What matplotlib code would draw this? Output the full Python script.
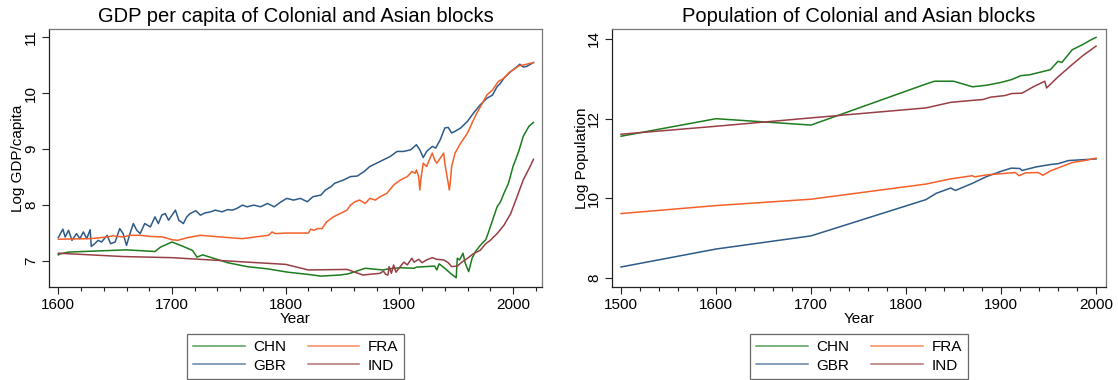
import matplotlib
matplotlib.use("Agg")
import matplotlib.pyplot as plt
from matplotlib.ticker import MultipleLocator

plt.rcParams['font.family'] = ['Liberation Sans', 'DejaVu Sans']

# ---------------- GDP per capita (log) ----------------
gdp_chn_years = [1600, 1602, 1609, 1660, 1685, 1690, 1700, 1710, 1718, 1722, 1727, 1738, 1749, 1766,
                 1784, 1802, 1820, 1831, 1848, 1855, 1870, 1886, 1890, 1901, 1913, 1915, 1931, 1933,
                 1935, 1940, 1945, 1950, 1951, 1953, 1956, 1958, 1961, 1964, 1967, 1970, 1973, 1976,
                 1978, 1981, 1986, 1989, 1992, 1996, 2000, 2005, 2009, 2014, 2018]
gdp_chn = [7.11, 7.13, 7.16, 7.20, 7.17, 7.25, 7.34, 7.26, 7.19, 7.07, 7.11, 7.04, 6.97, 6.90,
           6.86, 6.80, 6.76, 6.73, 6.75, 6.77, 6.87, 6.84, 6.86, 6.88, 6.87, 6.89, 6.91, 6.84,
           6.95, 6.87, 6.78, 6.70, 7.05, 7.02, 7.14, 6.96, 6.81, 7.05, 7.17, 7.25, 7.32, 7.38,
           7.49, 7.67, 7.97, 8.06, 8.21, 8.39, 8.69, 8.96, 9.23, 9.41, 9.48]

gdp_gbr_years = [1600, 1604, 1606, 1609, 1612, 1616, 1619, 1622, 1625, 1628, 1629, 1632, 1635, 1638,
                 1643, 1646, 1650, 1654, 1657, 1660, 1663, 1666, 1669, 1672, 1676, 1681, 1685, 1688,
                 1691, 1694, 1697, 1700, 1703, 1706, 1710, 1713, 1716, 1721, 1725, 1729, 1734, 1738,
                 1744, 1749, 1753, 1757, 1762, 1766, 1772, 1778, 1784, 1790, 1796, 1801, 1807, 1813,
                 1819, 1824, 1831, 1835, 1840, 1843, 1851, 1857, 1863, 1869, 1874, 1880, 1886, 1892,
                 1898, 1904, 1910, 1915, 1918, 1921, 1924, 1929, 1932, 1936, 1940, 1943, 1946, 1949,
                 1954, 1960, 1965, 1971, 1977, 1982, 1986, 1989, 1992, 1998, 2002, 2006, 2009, 2012, 2018]
gdp_gbr = [7.42, 7.57, 7.43, 7.55, 7.37, 7.49, 7.40, 7.52, 7.40, 7.56, 7.26, 7.31, 7.37, 7.34,
           7.46, 7.31, 7.34, 7.58, 7.49, 7.28, 7.49, 7.67, 7.55, 7.49, 7.67, 7.61, 7.79, 7.67,
           7.82, 7.85, 7.73, 7.82, 7.91, 7.73, 7.67, 7.79, 7.85, 7.90, 7.82, 7.86, 7.88, 7.91,
           7.88, 7.92, 7.91, 7.94, 8.00, 7.97, 8.00, 7.97, 8.03, 7.97, 8.06, 8.12, 8.09, 8.12,
           8.06, 8.15, 8.18, 8.27, 8.33, 8.39, 8.45, 8.51, 8.52, 8.60, 8.69, 8.75, 8.81, 8.87,
           8.96, 8.96, 8.99, 9.08, 8.99, 8.85, 8.96, 9.05, 9.02, 9.17, 9.38, 9.39, 9.29, 9.32,
           9.38, 9.50, 9.64, 9.79, 9.91, 9.97, 10.12, 10.18, 10.27, 10.39, 10.45, 10.52, 10.47, 10.48, 10.55]

gdp_fra_years = [1600, 1628, 1643, 1648, 1657, 1663, 1672, 1681, 1692, 1700, 1705, 1714, 1725, 1737,
                 1749, 1762, 1773, 1785, 1788, 1791, 1800, 1820, 1822, 1825, 1828, 1832, 1836, 1842,
                 1848, 1854, 1857, 1861, 1865, 1870, 1874, 1879, 1883, 1889, 1895, 1901, 1907, 1911,
                 1914, 1915, 1917, 1918, 1919, 1921, 1924, 1927, 1929, 1931, 1933, 1936, 1939, 1940,
                 1942, 1944, 1945, 1946, 1949, 1954, 1960, 1964, 1968, 1973, 1977, 1982, 1987, 1992,
                 1996, 2001, 2005, 2010, 2014, 2018]
gdp_fra = [7.39, 7.40, 7.43, 7.45, 7.43, 7.46, 7.46, 7.44, 7.43, 7.38, 7.37, 7.42, 7.46, 7.44,
           7.42, 7.40, 7.43, 7.46, 7.52, 7.49, 7.50, 7.50, 7.57, 7.55, 7.58, 7.58, 7.70, 7.79,
           7.85, 7.91, 8.00, 8.06, 8.09, 8.03, 8.12, 8.09, 8.15, 8.21, 8.36, 8.45, 8.51, 8.60,
           8.57, 8.63, 8.51, 8.27, 8.47, 8.75, 8.69, 8.84, 8.93, 8.81, 8.75, 8.84, 8.93, 8.75,
           8.51, 8.27, 8.45, 8.69, 8.93, 9.11, 9.29, 9.47, 9.64, 9.82, 9.97, 10.06, 10.21, 10.27,
           10.36, 10.43, 10.49, 10.51, 10.53, 10.55]

gdp_ind_years = [1600, 1657, 1700, 1800, 1820, 1854, 1868, 1883, 1886, 1888, 1890, 1891, 1893, 1895,
                 1897, 1900, 1904, 1907, 1911, 1913, 1917, 1920, 1924, 1929, 1933, 1939, 1943, 1946,
                 1951, 1955, 1960, 1965, 1971, 1976, 1980, 1986, 1992, 1998, 2003, 2009, 2015, 2018]
gdp_ind = [7.14, 7.08, 7.06, 6.94, 6.84, 6.85, 6.75, 6.78, 6.82, 6.76, 6.75, 6.90, 6.78, 6.93,
           6.80, 6.88, 6.98, 6.93, 7.05, 6.98, 7.03, 6.97, 7.02, 7.06, 7.03, 7.02, 6.97, 6.90,
           6.91, 6.98, 7.05, 7.13, 7.19, 7.31, 7.37, 7.49, 7.64, 7.85, 8.12, 8.45, 8.69, 8.82]

# ---------------- Population (log) ----------------
pop_chn_years = [1500, 1600, 1700, 1821, 1830, 1850, 1870, 1885, 1900, 1911, 1921, 1930, 1952, 1960,
                 1964, 1975, 1986, 1994, 2000]
pop_chn = [11.56, 12.00, 11.84, 12.87, 12.94, 12.94, 12.80, 12.84, 12.91, 12.98, 13.08, 13.10, 13.23,
           13.44, 13.41, 13.73, 13.86, 13.97, 14.04]

pop_ind_years = [1500, 1600, 1700, 1821, 1847, 1870, 1881, 1889, 1904, 1911, 1922, 1934, 1946, 1948,
                 1960, 1975, 1986, 2000]
pop_ind = [11.61, 11.81, 12.02, 12.27, 12.41, 12.46, 12.48, 12.54, 12.58, 12.63, 12.64, 12.80, 12.94,
           12.77, 13.05, 13.36, 13.58, 13.82]

pop_fra_years = [1500, 1600, 1700, 1821, 1847, 1870, 1872, 1885, 1900, 1915, 1919, 1926, 1939, 1944,
                 1952, 1964, 1975, 1988, 2000]
pop_fra = [9.62, 9.82, 9.98, 10.36, 10.49, 10.57, 10.54, 10.59, 10.62, 10.65, 10.57, 10.64, 10.65,
           10.58, 10.69, 10.80, 10.90, 10.95, 11.01]

pop_gbr_years = [1500, 1600, 1700, 1821, 1832, 1847, 1852, 1870, 1885, 1900, 1911, 1920, 1922, 1937,
                 1952, 1960, 1971, 2000]
pop_gbr = [8.28, 8.73, 9.06, 9.97, 10.13, 10.26, 10.20, 10.38, 10.55, 10.68, 10.76, 10.75, 10.70,
           10.79, 10.85, 10.87, 10.95, 10.99]

countries = ['CHN', 'GBR', 'FRA', 'IND']
colors = {'CHN': '#1e7b1e', 'GBR': '#2e5b88', 'FRA': '#f4602a', 'IND': '#983f46'}

gdp = {'CHN': (gdp_chn_years, gdp_chn), 'GBR': (gdp_gbr_years, gdp_gbr),
       'FRA': (gdp_fra_years, gdp_fra), 'IND': (gdp_ind_years, gdp_ind)}
pop = {'CHN': (pop_chn_years, pop_chn), 'GBR': (pop_gbr_years, pop_gbr),
       'FRA': (pop_fra_years, pop_fra), 'IND': (pop_ind_years, pop_ind)}

W, H = 1118, 380
fig = plt.figure(figsize=(W / 100, H / 100), dpi=100)
ax1 = fig.add_axes([49 / W, 1 - 287.3 / H, (542 - 49) / W, (287.3 - 29) / H])
ax2 = fig.add_axes([612.3 / W, 1 - 287.3 / H, (1106 - 612.3) / W, (287.3 - 29) / H])


def style(ax, title, ylabel, xlim, ylim, yticks, xticks):
    ax.set_xlim(*xlim)
    ax.set_ylim(*ylim)
    ax.set_xticks(xticks)
    ax.xaxis.set_minor_locator(MultipleLocator(20))
    ax.set_yticks(yticks)
    ax.set_yticklabels([str(t) for t in yticks], rotation=90, va='center')
    ax.tick_params(axis='both', which='major', direction='out', length=5, width=0.8,
                   labelsize=11, color='#222222', pad=3)
    ax.tick_params(axis='x', which='minor', direction='out', length=3, width=0.8, color='#222222')
    for s in ['left', 'bottom']:
        ax.spines[s].set_color('#222222')
        ax.spines[s].set_linewidth(0.9)
    for s in ['top', 'right']:
        ax.spines[s].set_color('#777777')
        ax.spines[s].set_linewidth(0.9)
    ax.set_title(title, fontsize=14.5, pad=5)
    ax.set_xlabel('Year', fontsize=11, labelpad=0)
    ax.set_ylabel(ylabel, fontsize=11, labelpad=-1)


for c in countries:
    x, y = gdp[c]
    ax1.plot(x, y, color=colors[c], lw=1.1, label=c)
    x, y = pop[c]
    ax2.plot(x, y, color=colors[c], lw=1.1, label=c)

style(ax1, 'GDP per capita of Colonial and Asian blocks', 'Log GDP/capita',
      (1591.8, 2025.5), (6.53, 11.15), [7, 8, 9, 10, 11], [1600, 1700, 1800, 1900, 2000])
style(ax2, 'Population of Colonial and Asian blocks', 'Log Population',
      (1490.8, 2010.5), (7.77, 14.25), [8, 10, 12, 14], [1500, 1600, 1700, 1800, 1900, 2000])

for ax, cx in [(ax1, 295.5 / W), (ax2, 859 / W)]:
    h, l = ax.get_legend_handles_labels()
    leg = fig.legend(h, l, ncol=2,
                     loc='upper center', bbox_to_anchor=(cx, 1 - 334 / H),
                     fontsize=11, frameon=True, fancybox=False, edgecolor='#444444',
                     handlelength=3.4, handletextpad=0.55, columnspacing=1.4,
                     borderpad=0.4, labelspacing=0.3, borderaxespad=0)
    leg.get_frame().set_linewidth(0.9)
    for line in leg.get_lines():
        line.set_alpha(0.75)

fig.savefig('out.png', dpi=100)
